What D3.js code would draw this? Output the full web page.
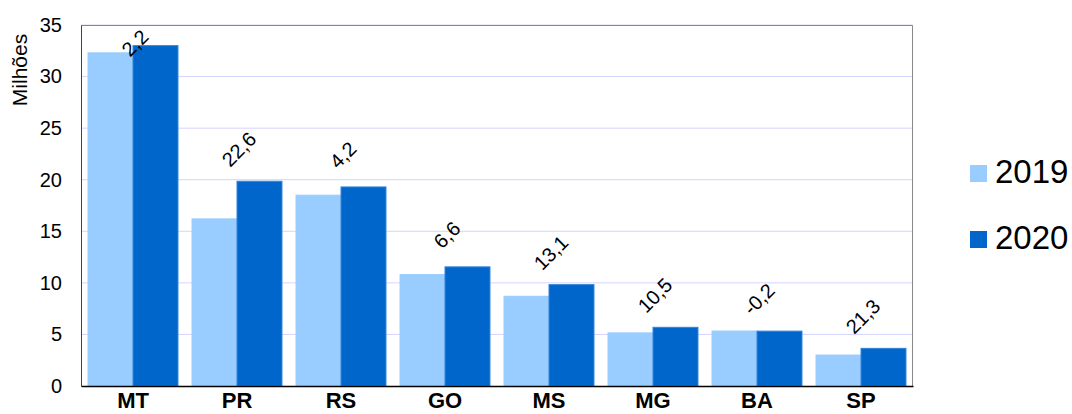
<!DOCTYPE html>
<html>
<head>
<meta charset="utf-8">
<script src="https://cdn.jsdelivr.net/npm/d3@7"></script>
<style>
  body { margin: 0; background: #fff; }
  svg { font-family: Arial, "Liberation Sans", sans-serif; }
</style>
</head>
<body>
<main></main>
<script>
  const states = ["MT", "PR", "RS", "GO", "MS", "MG", "BA", "SP"];
  const years = ["2019", "2020"];
  const values2019 = [32.3, 16.2, 18.5, 10.8, 8.7, 5.15, 5.33, 3.0];
  const values2020 = [33.0, 19.85, 19.3, 11.55, 9.83, 5.69, 5.32, 3.65];
  const growth = ["2,2", "22,6", "4,2", "6,6", "13,1", "10,5", "-0,2", "21,3"];
  const yTicks = [0, 5, 10, 15, 20, 25, 30, 35];
  const colors = ["#99ccff", "#0066cc"];

  const W = 1072, H = 414;
  const margin = { left: 81, top: 25, right: 159, bottom: 28 };
  const w = W - margin.left - margin.right;
  const h = H - margin.top - margin.bottom;

  const data = states.map((s, i) => ({
    state: s, growth: growth[i], vals: [values2019[i], values2020[i]]
  }));

  const svg = d3.select("main").append("svg")
    .attr("width", W).attr("height", H);

  const g = svg.append("g")
    .attr("transform", `translate(${margin.left},${margin.top})`);

  const x = d3.scaleBand().domain(states).range([0, w]).paddingInner(0.135).paddingOuter(0.0675);
  const x1 = d3.scaleBand().domain(years).range([0, x.bandwidth()]);
  const y = d3.scaleLinear().domain([0, 35]).range([h, 0]);

  // gridlines
  g.selectAll(".grid").data(yTicks.slice(1)).enter().append("line")
    .attr("x1", 0).attr("x2", w)
    .attr("y1", d => y(d)).attr("y2", d => y(d))
    .attr("stroke", "#d4d4ff").attr("stroke-width", 1);

  // frame top/right
  g.append("path")
    .attr("d", `M0,0.5H${w - 0.5}V${h}`)
    .attr("fill", "none").attr("stroke", "#888").attr("stroke-width", 1);

  // bars
  const groups = g.selectAll(".state").data(data).enter().append("g")
    .attr("transform", d => `translate(${x(d.state)},0)`);

  groups.selectAll("rect")
    .data(d => d.vals.map((v, k) => ({ year: years[k], v, k })))
    .enter().append("rect")
    .attr("x", d => x1(d.year))
    .attr("y", d => y(d.v))
    .attr("width", x1.bandwidth())
    .attr("height", d => h - y(d.v))
    .attr("fill", d => colors[d.k])
    .attr("stroke", d => d.k ? "#3385d6" : "#99ccff")
    .attr("stroke-width", 1);

  // growth labels
  groups.append("text")
    .attr("transform", d => {
      const ty = Math.max(y(d3.max(d.vals)) - 32, 18);
      return `translate(${x.bandwidth() / 2 + 2},${ty}) rotate(-45)`;
    })
    .attr("text-anchor", "middle")
    .attr("dy", "0.35em")
    .style("font-size", "20px")
    .text(d => d.growth);

  // y axis
  const yAxis = g.append("g")
    .call(d3.axisLeft(y).tickValues(yTicks).tickSize(0).tickPadding(19));
  yAxis.select(".domain").attr("stroke", "#444");
  yAxis.selectAll("text").style("font-size", "20px").attr("fill", "#000")
    .style("font-family", "Arial, 'Liberation Sans', sans-serif");

  // x axis
  const xAxis = g.append("g")
    .attr("transform", `translate(0,${h})`)
    .call(d3.axisBottom(x).tickSize(0).tickPadding(0));
  xAxis.select(".domain").attr("stroke", "#000").attr("stroke-width", 1.5);
  xAxis.selectAll("text").attr("dy", null).attr("y", 22)
    .style("font-size", "22px").style("font-weight", "bold")
    .attr("fill", "#000").style("font-family", "Arial, 'Liberation Sans', sans-serif");

  // y label
  svg.append("text")
    .attr("transform", "translate(27,70) rotate(-90)")
    .attr("text-anchor", "middle")
    .style("font-size", "21px")
    .text("Milhões");

  // legend
  const legend = svg.append("g").attr("transform", "translate(970,165)");
  years.forEach((yr, k) => {
    legend.append("rect")
      .attr("x", 0).attr("y", k * 66)
      .attr("width", 17).attr("height", 17)
      .attr("fill", colors[k]);
    legend.append("text")
      .attr("x", 25).attr("y", k * 66 + 18)
      .style("font-size", "33px")
      .text(yr);
  });
</script>
</body>
</html>
